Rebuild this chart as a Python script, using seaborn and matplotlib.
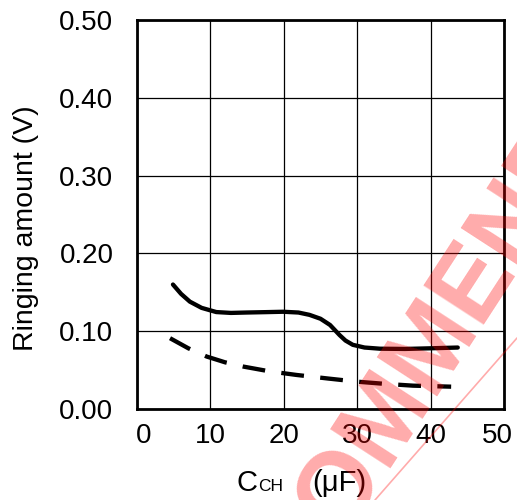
import numpy as np
import pandas as pd
import matplotlib
matplotlib.use("Agg")
import matplotlib.pyplot as plt
import matplotlib.transforms as mtransforms
import seaborn as sns
from matplotlib.lines import Line2D

# ---- data ----
solid_x = [4.9, 6.0, 7.2, 8.8, 10.8, 12.8, 14.9, 17.5, 19.9, 22.0, 23.5, 25.0, 26.3, 27.0, 27.6, 28.4, 29.4, 31.0, 33.1, 36.5, 39.9, 43.7]
solid_y = [0.160, 0.148, 0.138, 0.130, 0.1246, 0.1235, 0.1240, 0.1245, 0.1250, 0.1240, 0.1210, 0.1160, 0.1080, 0.1010, 0.0950, 0.0880, 0.0825, 0.0790, 0.0775, 0.0772, 0.0780, 0.0790]
dash_x = [4.5, 7.0, 9.5, 12.0, 14.5, 18.0, 21.7, 26.0, 29.9, 33.5, 37.6, 42.8]
dash_y = [0.091, 0.078, 0.0674, 0.060, 0.0545, 0.0485, 0.0438, 0.0392, 0.0352, 0.0325, 0.0300, 0.0287]

xticks = [0, 10, 20, 30, 40, 50]
yticks = [0.0, 0.1, 0.2, 0.3, 0.4, 0.5]
ytick_labels = ["0.00", "0.10", "0.20", "0.30", "0.40", "0.50"]
ylabel = "Ringing amount (V)"
watermark = "NOT RECOMMENDED"

sns.set_theme(style="white")
plt.rcParams["font.family"] = ["Liberation Sans", "DejaVu Sans"]

fig = plt.figure(figsize=(5.17, 5.0), dpi=100)
W, H = 517, 500
ax = fig.add_axes([137 / W, 1 - 409 / H, (504 - 137) / W, (409 - 20) / H])

df_s = pd.DataFrame({"x": solid_x, "y": solid_y})
df_d = pd.DataFrame({"x": dash_x, "y": dash_y})
sns.lineplot(data=df_s, x="x", y="y", ax=ax, color="black", lw=3.1, sort=False)
sns.lineplot(data=df_d, x="x", y="y", ax=ax, color="black", lw=3.1, sort=False,
             linestyle=(0, (5.3, 3.8)))

ax.set_xlim(0, 50)
ax.set_ylim(0, 0.5)
ax.set_xticks(xticks)
ax.set_xticklabels([str(v) for v in xticks])
ax.set_yticks(yticks)
ax.set_yticklabels(ytick_labels)
ax.grid(True, color="black", lw=0.9)
ax.set_axisbelow(True)
ax.tick_params(axis="both", length=0, labelsize=20, colors="black")
ax.tick_params(axis="y", pad=17)
ax.tick_params(axis="x", pad=10)
for s in ax.spines.values():
    s.set_visible(True)
    s.set_color("black")
    s.set_linewidth(2.0)
ax.set_xlabel("")
ax.set_ylabel("")

# nudge the end x tick labels inward as in the reference
xlabels = ax.get_xticklabels()
xlabels[0].set_transform(xlabels[0].get_transform() +
                         mtransforms.ScaledTranslation(7 / 100, 0, fig.dpi_scale_trans))
xlabels[-1].set_transform(xlabels[-1].get_transform() +
                          mtransforms.ScaledTranslation(-6.5 / 100, 0, fig.dpi_scale_trans))

# axis labels
fig.text(26.5 / W, 1 - 228.5 / H, ylabel, rotation=90, ha="center", va="center",
         fontsize=20.5, color="black")
fig.text(237 / W, 1 - 491 / H, "C", fontsize=21, ha="left", va="baseline", color="black")
fig.text(258 / W, 1 - 491 / H, "CH", fontsize=12.5, ha="left", va="baseline", color="black")
fig.text(312 / W, 1 - 491 / H, "(\u03bcF)", fontsize=21, ha="left", va="baseline", color="black")

# watermark: place so that the "O" of RECOMMENDED sits where it is in the reference
wm_size = 74
angle = 57.0
renderer = fig.canvas.get_renderer()
def text_width(s):
    t = fig.text(0, 0, s, fontsize=wm_size, fontweight="bold")
    w = t.get_window_extent(renderer).width
    t.remove()
    return w
w_prefix = text_width("NOT REC")
w_O = text_width("O")
em = wm_size * 100 / 72.0
a = np.deg2rad(angle)
d = np.array([np.cos(a), np.sin(a)])
u = np.array([-np.sin(a), np.cos(a)])
o_center = np.array([335.0, H - 487.0])
start = o_center - (w_prefix + w_O / 2) * d - 0.36 * em * u
fig.text(start[0] / W, start[1] / H, watermark, rotation=angle, rotation_mode="anchor",
         ha="left", va="baseline", fontsize=wm_size, fontweight="bold",
         color="red", alpha=0.33, zorder=10)
fig.add_artist(Line2D([375 / W, 1.0], [0.0, 1 - 338 / H], transform=fig.transFigure,
                      color="red", alpha=0.33, lw=1.2, zorder=10))

fig.savefig("out.png", dpi=100)
